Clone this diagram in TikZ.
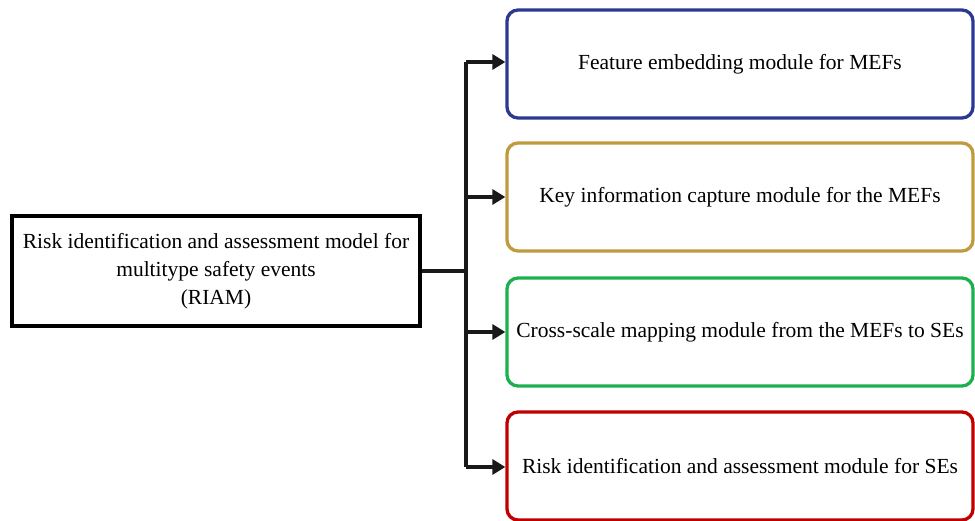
\documentclass[tikz,border=0pt]{standalone}
\usepackage{fontspec}
\setmainfont{Liberation Serif}
\usetikzlibrary{arrows.meta}
\definecolor{modblue}{RGB}{43,57,144}
\definecolor{modgold}{RGB}{192,154,63}
\definecolor{modgreen}{RGB}{29,176,79}
\definecolor{modred}{RGB}{192,0,0}
\tikzset{
  mainbox/.style={draw=black, line width=3.3pt, minimum width=408pt, minimum height=110pt,
    align=center, font=\fontsize{21.5}{28}\selectfont, inner sep=0pt},
  modbox/.style={draw=#1, line width=3.3pt, rounded corners=11pt, minimum width=466pt,
    minimum height=108pt, align=center, font=\fontsize{21.5}{26}\selectfont, inner sep=0pt},
  link/.style={line width=3.3pt, black!90},
  arrowlink/.style={link, -{Triangle[length=13pt, width=15pt]}},
}
\begin{document}
\begin{tikzpicture}[x=1pt, y=-1pt]
  \useasboundingbox (0,0) rectangle (975,521);
  % the model and its four modules
  \node[mainbox] (riam) at (216,271) {Risk identification and assessment model for\\multitype safety events\\(RIAM)};
  \node[modbox=modblue]  (m1) at (740,64)  {Feature embedding module for MEFs};
  \node[modbox=modgold]  (m2) at (740,197) {Key information capture module for the MEFs};
  \node[modbox=modgreen] (m3) at (740,332) {Cross-scale mapping module from the MEFs to SEs};
  \node[modbox=modred]   (m4) at (740,466) {Risk identification and assessment module for SEs};
  % branching connector
  \coordinate (fork) at (466,271);
  \coordinate (t1) at (466,62);
  \coordinate (t4) at (466,467);
  \draw[link] (riam.east) -- (fork);
  \draw[link] (t1) -- (t4);
  \draw[arrowlink] (t1) -- (m1.west |- t1);
  \draw[arrowlink] (fork |- m2.west) -- (m2.west);
  \draw[arrowlink] (fork |- m3.west) -- (m3.west);
  \draw[arrowlink] (t4) -- (m4.west |- t4);
\end{tikzpicture}
\end{document}
